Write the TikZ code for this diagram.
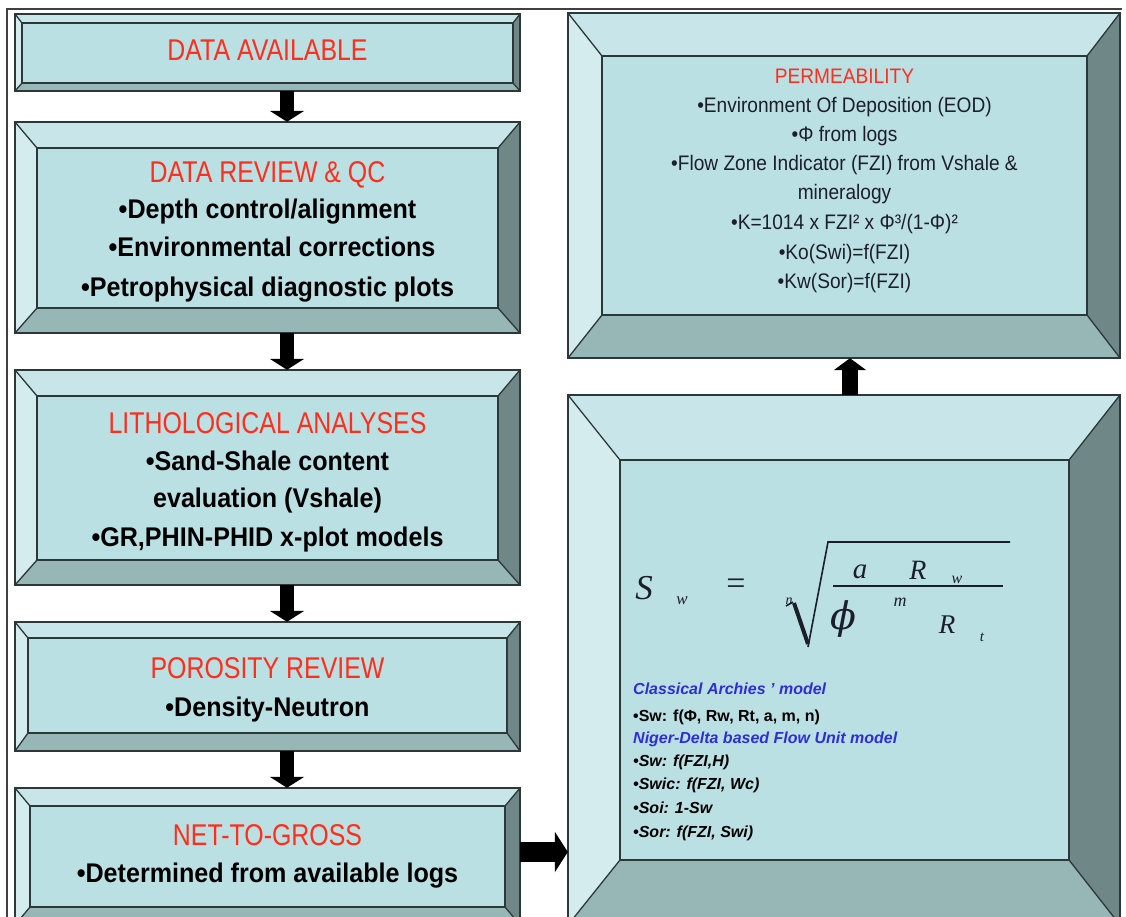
\documentclass[tikz,border=0pt]{standalone}
\usepackage{fontspec}
\setmainfont{Liberation Sans}
\newfontfamily\ttlfont{Liberation Sans}[FakeStretch=0.83]
\newfontfamily\bdyfont{Liberation Sans}[FakeStretch=0.93]
\newfontfamily\prmfont{Liberation Sans}[FakeStretch=0.91]
\newfontfamily\eqfont{Liberation Serif}
\newfontfamily\phifont{DejaVu Serif}
\usetikzlibrary{arrows.meta,fit}

\definecolor{bvface}{HTML}{BBE0E4}
\definecolor{bvtop}{HTML}{C8E6E9}
\definecolor{bvleft}{HTML}{D5ECEE}
\definecolor{bvright}{HTML}{6F8787}
\definecolor{bvbottom}{HTML}{97B6B6}
\definecolor{bvedge}{HTML}{2C3838}
\definecolor{titlered}{HTML}{FF2E1C}
\definecolor{modelblue}{HTML}{2E2ED8}
\definecolor{inkdark}{HTML}{1C1E28}

% bevelled panel: x1, y1, x2, y2, left, top, right, bottom bevel widths
\newcommand\bevelbox[8]{%
  \fill[bvface] ({#1+#5},{#2+#6}) rectangle ({#3-#7},{#4-#8});
  \fill[bvtop] (#1,#2) -- (#3,#2) -- ({#3-#7},{#2+#6}) -- ({#1+#5},{#2+#6}) -- cycle;
  \fill[bvleft] (#1,#2) -- ({#1+#5},{#2+#6}) -- ({#1+#5},{#4-#8}) -- (#1,#4) -- cycle;
  \fill[bvright] (#3,#2) -- (#3,#4) -- ({#3-#7},{#4-#8}) -- ({#3-#7},{#2+#6}) -- cycle;
  \fill[bvbottom] (#1,#4) -- (#3,#4) -- ({#3-#7},{#4-#8}) -- ({#1+#5},{#4-#8}) -- cycle;
  \draw[bvline] ({#1+#5},{#2+#6}) rectangle ({#3-#7},{#4-#8});
  \draw[bvline] (#1,#2) -- ({#1+#5},{#2+#6}) (#3,#2) -- ({#3-#7},{#2+#6})
                (#1,#4) -- ({#1+#5},{#4-#8}) (#3,#4) -- ({#3-#7},{#4-#8});
  \draw[bvouter] (#1,#2) rectangle (#3,#4);
}

\tikzset{
  x=1pt, y=-1pt,
  bvline/.style={draw=bvedge, line width=1.3pt},
  bvouter/.style={draw=bvedge, line width=1.8pt},
  frameline/.style={draw=black!75, line width=2.2pt},
  panel/.style={inner sep=0pt, draw=none},
  ttl/.style={anchor=base, inner sep=0pt, text=titlered, font=\ttlfont\fontsize{30}{36}\selectfont},
  bdy/.style={anchor=base, inner sep=0pt, text=black, font=\bdyfont\bfseries\fontsize{27}{32}\selectfont},
  prmttl/.style={anchor=base, inner sep=0pt, text=titlered, font=\prmfont\fontsize{21}{25}\selectfont},
  prm/.style={anchor=base, inner sep=0pt, text=inkdark, font=\prmfont\fontsize{21}{25}\selectfont},
  mdl/.style={anchor=base west, inner sep=0pt, text=modelblue, font=\bfseries\itshape\fontsize{16}{19}\selectfont},
  sml/.style={anchor=base west, inner sep=0pt, text=black, font=\bfseries\fontsize{16}{19}\selectfont},
  smli/.style={sml, font=\bfseries\itshape\fontsize{16}{19}\selectfont},
  eq/.style={inner sep=0pt, text=inkdark, font=\eqfont\itshape},
  downarrow/.style={line width=14pt, -{Triangle[width=34pt,length=11pt]}},
  uparrow/.style={line width=16pt, -{Triangle[width=32pt,length=12pt]}},
  rightarrow/.style={line width=20pt, -{Triangle[width=40pt,length=13pt]}},
}

\begin{document}
\begin{tikzpicture}
\clip (0,0) rectangle (1126,917);
\fill[white] (0,0) rectangle (1126,917);

% outer frame (top and left rules)
\draw[frameline] (7,917) -- (7,9) -- (1122,9);

% left column panels
\bevelbox{15}{14}{520}{91}{7}{9}{7}{8}
\bevelbox{15}{122}{520}{333}{22}{26}{22}{25}
\bevelbox{15}{370}{520}{585}{22}{26}{22}{25}
\bevelbox{15}{622}{520}{751}{13}{16}{13}{18}
\bevelbox{15}{788}{520}{925}{15}{18}{15}{18}

% right column panels
\bevelbox{568}{13}{1120}{358}{34}{43}{33}{43}
\bevelbox{568}{395}{1120}{925}{52}{65}{51}{65}

% named panel outlines for the connectors
\node[panel, fit={(15,14) (520,91)}] (b1) {};
\node[panel, fit={(15,122) (520,333)}] (b2) {};
\node[panel, fit={(15,370) (520,585)}] (b3) {};
\node[panel, fit={(15,622) (520,751)}] (b4) {};
\node[panel, fit={(15,788) (520,925)}] (b5) {};
\node[panel, fit={(568,13) (1120,358)}] (b6) {};
\node[panel, fit={(568,395) (1120,925)}] (b7) {};

% connectors
\draw[downarrow] (b1.south -| 287,0) -- (b2.north -| 287,0);
\draw[downarrow] (b2.south -| 287,0) -- (b3.north -| 287,0);
\draw[downarrow] (b3.south -| 287,0) -- (b4.north -| 287,0);
\draw[downarrow] (b4.south -| 287,0) -- (b5.north -| 287,0);
\draw[rightarrow] (b5.east |- 0,852) -- (b7.west |- 0,852);
\draw[uparrow] (b7.north -| 850,0) -- (b6.south -| 850,0);

% left column texts
\node[ttl] (t1) at (267.5,61) {DATA AVAILABLE};

\node[ttl] (t2) at (267.5,183) {DATA REVIEW \& QC};
\node[bdy] (t2a) at (267.5,219) {•Depth control/alignment};
\node[bdy] (t2b) at (272,257) {•Environmental corrections};
\node[bdy] (t2c) at (267.5,296) {•Petrophysical diagnostic plots};

\node[ttl] (t3) at (267.5,433) {LITHOLOGICAL ANALYSES};
\node[bdy] (t3a) at (267.5,470) {•Sand-Shale content};
\node[bdy] (t3b) at (267.5,507) {evaluation (Vshale)};
\node[bdy] (t3c) at (267.5,546) {•GR,PHIN-PHID x-plot models};

\node[ttl] (t4) at (267.5,678) {POROSITY REVIEW};
\node[bdy] (t4a) at (267.5,716) {•Density-Neutron};

\node[ttl] (t5) at (267.5,845) {NET-TO-GROSS};
\node[bdy] (t5a) at (267.5,882) {•Determined from available logs};

% permeability panel texts
\node[prmttl] (p0) at (844.5,84) {PERMEABILITY};
\node[prm] (p1) at (844.5,113) {•Environment Of Deposition (EOD)};
\node[prm] (p2) at (844.5,142) {•Φ from logs};
\node[prm] (p3) at (844.5,171) {•Flow Zone Indicator (FZI) from Vshale \&};
\node[prm] (p4) at (844.5,200) {mineralogy};
\node[prm] (p5) at (844.5,230) {•K=1014 x FZI² x Φ³/(1-Φ)²};
\node[prm] (p6) at (844.5,259) {•Ko(Swi)=f(FZI)};
\node[prm] (p7) at (844.5,288) {•Kw(Sor)=f(FZI)};

% saturation equation
\node[eq, font=\eqfont\itshape\fontsize{35}{40}\selectfont] (eS) at (644,588) {S};
\node[eq, font=\eqfont\itshape\fontsize{17}{20}\selectfont] (eSw) at (682,601) {w};
\node[eq, font=\eqfont\fontsize{34}{40}\selectfont] (eeq) at (736,587) {=};
\node[eq, font=\eqfont\itshape\fontsize{14}{16}\selectfont] (en) at (789,601) {n};
\node[eq, font=\eqfont\itshape\fontsize{29}{32}\selectfont] (ea) at (860,572) {a};
\node[eq, font=\eqfont\itshape\fontsize{28}{32}\selectfont] (eR1) at (918,570) {R};
\node[eq, font=\eqfont\itshape\fontsize{16}{18}\selectfont] (eRw) at (957,580) {w};
\node[eq, font=\phifont\itshape\fontsize{38}{44}\selectfont] (ephi) at (843,619) {ϕ};
\node[eq, font=\eqfont\itshape\fontsize{18}{20}\selectfont] (em) at (900,602) {m};
\node[eq, font=\eqfont\itshape\fontsize{27}{30}\selectfont] (eR2) at (947,625) {R};
\node[eq, font=\eqfont\itshape\fontsize{15}{18}\selectfont] (et) at (982,637) {t};
% radical sign and fraction bar
\draw[inkdark, line width=1.6pt, line join=round] (786,606) -- (793,602);
\draw[inkdark, line width=4pt] (794,603) -- (808,644);
\draw[inkdark, line width=1.6pt] (808,647) -- (828,542) -- (1010,542);
\draw[inkdark, line width=2pt] (833,586) -- (1003,586);

% model notes
\node[mdl] (m1) at (633,694) {Classical Archies ’ model};
\node[sml] (m2) at (633,721) {•Sw: f(Φ, Rw, Rt, a, m, n)};
\node[mdl] (m3) at (633,743) {Niger-Delta based Flow Unit model};
\node[smli] (m4) at (633,766) {•Sw: f(FZI,H)};
\node[smli] (m5) at (633,789) {•Swic: f(FZI, Wc)};
\node[smli] (m6) at (633,813) {•Soi: 1-Sw};
\node[smli] (m7) at (633,837) {•Sor: f(FZI, Swi)};
\end{tikzpicture}
\end{document}
